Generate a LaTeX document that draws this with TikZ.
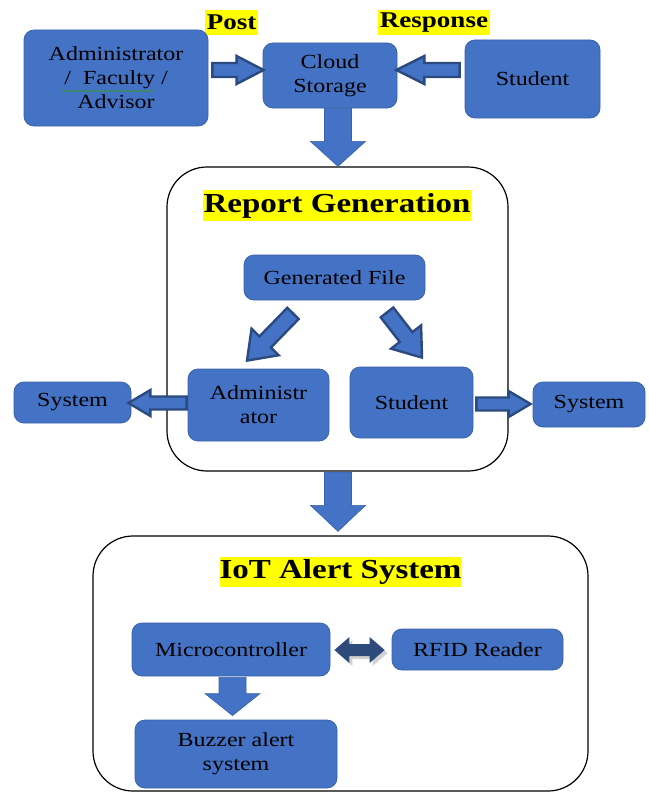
\documentclass[tikz,border=0pt]{standalone}
\usepackage{fontspec}
\setmainfont{Liberation Serif}[FakeStretch=1.2]
\usetikzlibrary{calc,decorations.pathmorphing}
\definecolor{boxblue}{HTML}{4472C4}
\definecolor{boxedge}{HTML}{3A62A8}
\definecolor{arrowedge}{HTML}{2B4A80}
\definecolor{navy}{HTML}{2E4A7A}
\definecolor{hl}{HTML}{FFFF00}
\definecolor{squig}{HTML}{3A9A3A}

% style, from, to, shaft half width, head half width, head length
\newcommand{\blockarrow}[6]{%
  \coordinate (baH) at ($(#3)!#6!(#2)$);
  \draw[#1] ($(#2)!#4!90:(#3)$) -- ($(baH)!#4!90:(#3)$) -- ($(baH)!#5!90:(#3)$) -- (#3)
    -- ($(baH)!#5!-90:(#3)$) -- ($(baH)!#4!-90:(#3)$) -- ($(#2)!#4!-90:(#3)$) -- cycle;
}
% style, A, B, shaft half width, head half width, head length
\newcommand{\twoheadarrow}[6]{%
  \coordinate (dbH1) at ($(#2)!#6!(#3)$);
  \coordinate (dbH2) at ($(#3)!#6!(#2)$);
  \fill[#1] (#2) -- ($(dbH1)!#5!90:(#3)$) -- ($(dbH1)!#4!90:(#3)$) -- ($(dbH2)!#4!90:(#3)$)
    -- ($(dbH2)!#5!90:(#3)$) -- (#3) -- ($(dbH2)!#5!-90:(#3)$) -- ($(dbH2)!#4!-90:(#3)$)
    -- ($(dbH1)!#4!-90:(#3)$) -- ($(dbH1)!#5!-90:(#3)$) -- cycle;
}

\begin{document}
\begin{tikzpicture}[x=1pt,y=-1pt,
  box/.style={draw=boxedge, line width=0.8pt, fill=boxblue, rounded corners=10pt,
    align=center, font=\fontsize{20}{24}\selectfont, inner sep=2pt},
  container/.style={draw=black, line width=1.2pt, rounded corners=40pt},
  titlehl/.style={fill=hl, font=\fontsize{27.5}{30}\selectfont\bfseries, inner sep=0pt},
  labelhl/.style={fill=hl, font=\fontsize{22.5}{25}\selectfont\bfseries, inner sep=0pt},
  hollow/.style={fill=boxblue, draw=arrowedge, line width=2.4pt, line join=miter},
  solidarrow/.style={fill=boxblue, draw=boxedge, line width=0.6pt, line join=miter},
  dbl/.style={fill=navy},
  dblshadow/.style={fill=gray!60, opacity=0.6}]
\useasboundingbox (0,0) rectangle (648,792);

% containers
\node[container, minimum width=341pt, minimum height=304pt] (rep) at (337.5,319) {};
\node[container, minimum width=495pt, minimum height=255pt] (iot) at (340.5,663.5) {};

% top labels
\node[labelhl, minimum width=53pt, minimum height=25pt] (post) at (231.5,22.5) {Post};
\node[labelhl, minimum width=112pt, minimum height=25pt] (resp) at (434,22.5) {Response};

% top row
\node[box, minimum width=184pt, minimum height=96pt] (admin) at (116,78) {Administrator\\/~ Faculty /\\Advisor};
\node[box, minimum width=134pt, minimum height=65pt] (cloud) at (330,75.5) {Cloud\\Storage};
\node[box, minimum width=135pt, minimum height=78pt] (stu1) at (532.5,79) {Student};
\draw[squig, line width=0.6pt, decorate, decoration={snake, segment length=3pt, amplitude=0.8pt}] (62,91) -- (154,91);

% report generation
\node[titlehl, minimum width=268pt, minimum height=31pt] (reptitle) at (337,205.5) {Report Generation};
\node[box, minimum width=181pt, minimum height=45pt] (gen) at (334.5,277.5) {Generated File};
\node[box, minimum width=141pt, minimum height=72pt] (adm2) at (258.5,405) {Administr\\ator};
\node[box, minimum width=123pt, minimum height=71pt] (stu2) at (411.5,402.5) {Student};
\node[box, minimum width=117pt, minimum height=41pt] (sysL) at (72.5,402.5) {System};
\node[box, minimum width=112pt, minimum height=45pt] (sysR) at (589,404.5) {System};

% IoT alert system
\node[titlehl, minimum width=239pt, minimum height=30pt] (iottitle) at (340.5,572) {IoT Alert System};
\node[box, minimum width=198pt, minimum height=53pt] (micro) at (231,649.5) {Microcontroller};
\node[box, minimum width=171pt, minimum height=41pt] (rfid) at (477.5,649.5) {RFID Reader};
\node[box, minimum width=202pt, minimum height=68pt] (buzz) at (236,754) {Buzzer alert\\system};

% arrow end points
\coordinate (a1s) at ($(admin.east)+(4,-8)$);
\coordinate (a1e) at ($(cloud.west)+(1,-5.5)$);
\coordinate (a2s) at ($(stu1.west)+(-5,-9)$);
\coordinate (a2e) at ($(cloud.east)+(-1,-5.5)$);
\coordinate (a3s) at ($(cloud.south)+(8,0)$);
\coordinate (a3e) at ($(rep.north)+(0.5,0)$);
\coordinate (a4s) at ($(gen.south)+(-41.5,13)$);
\coordinate (a4e) at ($(adm2.north)+(-11.5,-8)$);
\coordinate (a5s) at ($(gen.south)+(52.5,12)$);
\coordinate (a5e) at ($(stu2.north)+(10.5,-9)$);
\coordinate (a6s) at ($(adm2.west)+(-1,-2)$);
\coordinate (a6e) at ($(sysL.east)+(-3,0.5)$);
\coordinate (a7s) at ($(stu2.east)+(3,1.5)$);
\coordinate (a7e) at ($(sysR.west)+(-2,-0.5)$);
\coordinate (a8s) at ($(rep.south)+(0.5,0.5)$);
\coordinate (a8e) at ($(iot.north)+(-2.5,-4)$);
\coordinate (a9s) at ($(micro.east)+(4,0.5)$);
\coordinate (a9e) at ($(rfid.west)+(-7,0.5)$);
\coordinate (a9ss) at ($(a9s)+(3,3)$);
\coordinate (a9es) at ($(a9e)+(3,3)$);
\coordinate (a10s) at ($(micro.south)+(1.5,1)$);
\coordinate (a10e) at ($(buzz.north)+(-3.5,-4)$);

% arrows
\blockarrow{hollow}{a1s}{a1e}{7pt}{14pt}{27pt}
\blockarrow{hollow}{a2s}{a2e}{7pt}{14pt}{28pt}
\blockarrow{solidarrow}{a3s}{a3e}{13.5pt}{27.5pt}{25pt}
\blockarrow{hollow}{a4s}{a4e}{8pt}{19pt}{26pt}
\blockarrow{hollow}{a5s}{a5e}{8pt}{19pt}{26pt}
\blockarrow{hollow}{a6s}{a6e}{6.5pt}{13pt}{22pt}
\blockarrow{hollow}{a7s}{a7e}{6.5pt}{13pt}{22pt}
\blockarrow{solidarrow}{a8s}{a8e}{13.5pt}{27.5pt}{26pt}
\twoheadarrow{dblshadow}{a9ss}{a9es}{6pt}{13pt}{15pt}
\twoheadarrow{dbl}{a9s}{a9e}{6pt}{13pt}{15pt}
\blockarrow{solidarrow}{a10s}{a10e}{13.5pt}{27.5pt}{22pt}
\end{tikzpicture}
\end{document}
